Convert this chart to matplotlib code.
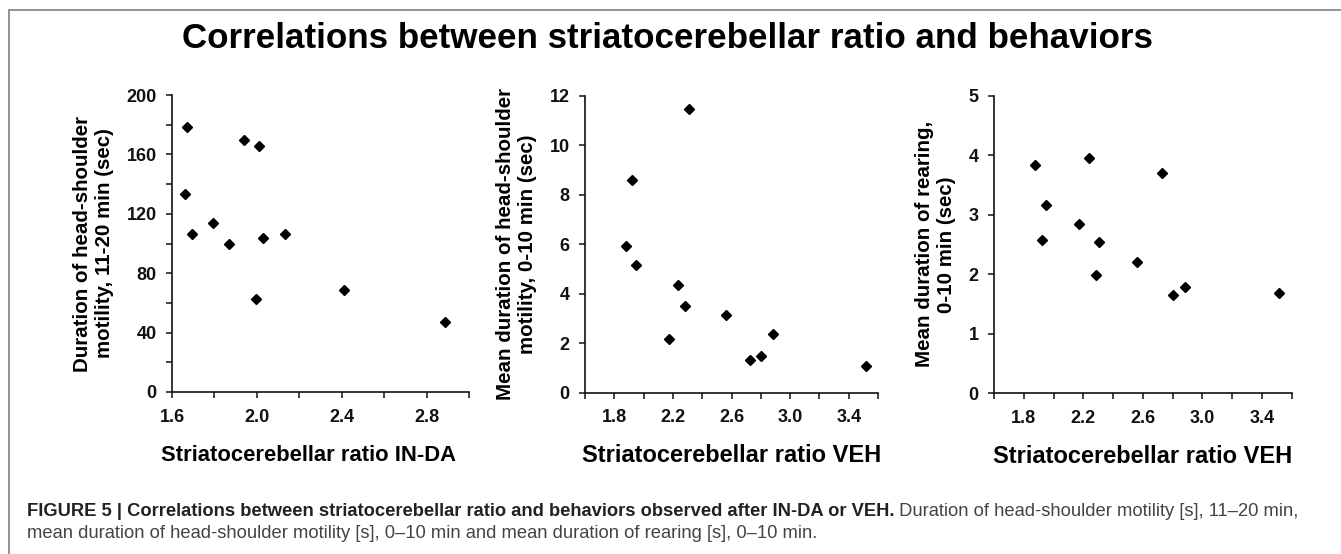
import matplotlib
matplotlib.use("Agg")
import matplotlib.pyplot as plt
from matplotlib.patches import Rectangle

plt.rcParams['font.family'] = ['Liberation Sans', 'DejaVu Sans']

# --- data ---
ratio_inda = [1.672, 1.661, 1.696, 1.795, 1.869, 1.939, 2.010, 1.997, 2.029, 2.131, 2.413, 2.885]
motility_11_20 = [178.7, 133.0, 106.7, 113.5, 100.0, 169.7, 165.6, 62.9, 103.8, 106.7, 69.0, 47.2]

ratio_veh = [1.878, 1.920, 1.951, 2.174, 2.235, 2.286, 2.308, 2.562, 2.728, 2.800, 2.884, 3.515]
motility_0_10 = [5.93, 8.59, 5.16, 2.15, 4.35, 3.50, 11.46, 3.12, 1.32, 1.48, 2.37, 1.08]
rearing_0_10 = [3.84, 2.58, 3.16, 2.84, 3.95, 1.98, 2.54, 2.21, 3.70, 1.65, 1.79, 1.68]

title = "Correlations between striatocerebellar ratio and behaviors"
caption_bold = ("FIGURE 5 | Correlations between striatocerebellar ratio and behaviors "
                "observed after IN-DA or VEH.")
caption_reg1 = " Duration of head-shoulder motility [s], 11\u201320 min,"
caption_reg2 = ("mean duration of head-shoulder motility [s], 0\u201310 min and mean duration "
                "of rearing [s], 0\u201310 min.")

W, H = 1341, 554
fig = plt.figure(figsize=(W / 100, H / 100), dpi=100)


def px_axes(left, top, right, bottom):
    return fig.add_axes([left / W, 1 - bottom / H, (right - left) / W, (bottom - top) / H])


def style(ax, xlim, xticks, xlabels, ylim, yticks, ylab_every, xlabel, ylabel, xlab_size=17):
    ax.set_xlim(*xlim)
    ax.set_ylim(*ylim)
    ax.set_xticks(xticks)
    ax.set_xticklabels(xlabels)
    ax.set_yticks(yticks)
    ax.set_yticklabels(["%g" % t if i % ylab_every == 0 else "" for i, t in enumerate(yticks)])
    for s in ["top", "right"]:
        ax.spines[s].set_visible(False)
    for s in ["left", "bottom"]:
        ax.spines[s].set_linewidth(1.2)
        ax.spines[s].set_color("#111111")
    ax.tick_params(axis="both", direction="out", length=4, width=1.1, color="#111111",
                   labelsize=13)
    ax.tick_params(axis="y", pad=7)
    ax.tick_params(axis="x", pad=8)
    for lab in ax.get_xticklabels() + ax.get_yticklabels():
        lab.set_fontweight("bold")
        lab.set_color("#111111")
    ax.set_xlabel(xlabel, fontsize=xlab_size, fontweight="bold", labelpad=13)
    ax.set_ylabel(ylabel, fontsize=14.8, fontweight="bold", labelpad=9, linespacing=1.2)


x1_ticks = [1.6 + 0.2 * i for i in range(8)]
x1_labels = ["%.1f" % t if i % 2 == 0 else "" for i, t in enumerate(x1_ticks)]
veh_ticks = [1.6 + 0.2 * i for i in range(11)]
veh_labels = ["%.1f" % t if i % 2 == 1 else "" for i, t in enumerate(veh_ticks)]

ax1 = px_axes(172, 95, 469, 392)
ax1.plot(ratio_inda, motility_11_20, "D", color="black", ms=5.5, clip_on=False)
style(ax1, (1.6, 3.0), x1_ticks, x1_labels,
      (0, 200), list(range(0, 201, 20)), 2,
      "Striatocerebellar ratio IN-DA",
      "Duration of head-shoulder\nmotility, 11-20 min (sec)", xlab_size=15.8)
ax1.xaxis.set_label_coords(0.46, -0.18)

ax2 = px_axes(585, 95.7, 878, 392.7)
ax2.plot(ratio_veh, motility_0_10, "D", color="black", ms=5.5, clip_on=False)
style(ax2, (1.6, 3.6), veh_ticks, veh_labels,
      (0, 12), list(range(0, 13, 2)), 1,
      "Striatocerebellar ratio VEH",
      "Mean duration of head-shoulder\nmotility, 0-10 min (sec)")

ax3 = px_axes(994, 95.7, 1291.7, 393)
ax3.plot(ratio_veh, rearing_0_10, "D", color="black", ms=5.5, clip_on=False)
style(ax3, (1.6, 3.6), veh_ticks, veh_labels,
      (0, 5), list(range(0, 6)), 1,
      "Striatocerebellar ratio VEH",
      "Mean duration of rearing,\n0-10 min (sec)")

# title and outer frame
fig.text(667 / W, 1 - 39 / H, title, ha="center", va="center",
         fontsize=25.2, fontweight="bold", color="black")
fig.patches.append(Rectangle((9 / W, -0.05), 1.1, 1 - 10 / H + 0.05,
                             transform=fig.transFigure, fill=False,
                             edgecolor="#8a8a8a", linewidth=1.3))

# caption
cb = fig.text(27 / W, 1 - 511 / H, caption_bold, ha="left", va="center",
              fontsize=13.2, fontweight="bold", color="#222222")
fig.canvas.draw()
ext = cb.get_window_extent(fig.canvas.get_renderer())
fig.text(ext.x1 / W, 1 - 511 / H, caption_reg1, ha="left", va="center",
         fontsize=13.2, color="#444444")
fig.text(27 / W, 1 - 533 / H, caption_reg2, ha="left", va="center",
         fontsize=13.2, color="#444444")

fig.savefig("out.png", dpi=100)
